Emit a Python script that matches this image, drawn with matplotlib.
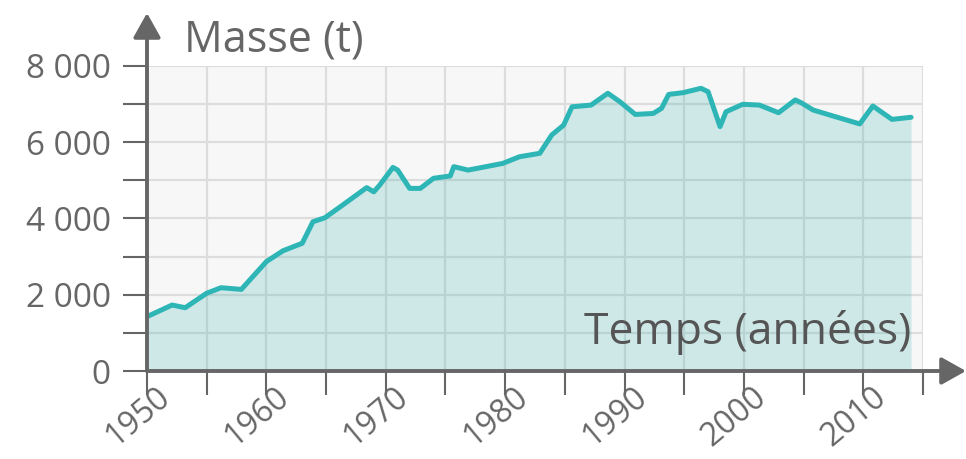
import numpy as np
import matplotlib
matplotlib.use('Agg')
import matplotlib.pyplot as plt
import matplotlib.transforms as mtransforms

plt.rcParams['font.family'] = ['Open Sans', 'DejaVu Sans']

# values
years = [1950.1, 1952.1, 1953.2, 1955.0, 1956.2, 1957.9, 1960.0, 1961.4, 1963.0,
         1963.9, 1964.9, 1966.2, 1968.4, 1969.0, 1969.5, 1970.6, 1971.0, 1972.0,
         1972.9, 1974.0, 1975.4, 1975.7, 1976.9, 1979.8, 1981.2, 1982.9, 1983.9,
         1984.9, 1985.6, 1987.2, 1988.6, 1989.6, 1990.9, 1992.4, 1993.1, 1993.7,
         1994.9, 1996.4, 1997.0, 1998.0, 1998.5, 1999.9, 2001.3, 2002.9, 2004.3,
         2004.8, 2005.8, 2009.7, 2010.8, 2012.4, 2014.0]
masse = [1440, 1730, 1660, 2040, 2185, 2140, 2870, 3155, 3350,
         3915, 4020, 4310, 4810, 4700, 4880, 5340, 5270, 4790,
         4790, 5055, 5115, 5360, 5270, 5445, 5620, 5710, 6190,
         6450, 6930, 6975, 7285, 7065, 6730, 6755, 6890, 7255,
         7300, 7415, 7325, 6410, 6800, 6995, 6975, 6775, 7110,
         7035, 6845, 6480, 6950, 6600, 6655]

year_ticks = [1950, 1960, 1970, 1980, 1990, 2000, 2010]
mass_ticks = [0, 2000, 4000, 6000, 8000]
mass_labels = ['0', '2 000', '4 000', '6 000', '8 000']

grey = '#666666'
teal = '#2eb6b6'

fig = plt.figure(figsize=(9.66, 4.59), dpi=100)
ax = fig.add_axes([147/966, 88/459, 776/966, 305/459])
ax.set_facecolor('#f7f7f7')
ax.set_xlim(1950, 2015)
ax.set_ylim(0, 8000)

ax.set_xticks(np.arange(1950, 2016, 5), minor=True)
ax.set_xticks(year_ticks)
ax.set_xticklabels([str(y) for y in year_ticks])
ax.set_yticks(np.arange(0, 8001, 1000), minor=True)
ax.set_yticks(mass_ticks)
ax.set_yticklabels(mass_labels)

ax.grid(True, which='both', color='#dddddd', lw=1.6, zorder=0)
ax.set_axisbelow(True)

ax.fill_between(years, masse, 0, color='#2aa8a8', alpha=0.2, lw=0, zorder=2)
ax.plot(years, masse, color=teal, lw=3.6, solid_joinstyle='round',
        solid_capstyle='round', zorder=3)

for s in ax.spines.values():
    s.set_visible(False)

ax.tick_params(which='both', direction='out', color=grey, width=1.5, length=17)
ax.tick_params(axis='y', labelsize=24, labelcolor=grey, pad=9)
ax.tick_params(axis='x', labelsize=23, labelcolor=grey, pad=0)

off = mtransforms.ScaledTranslation(8/100, 14/100, fig.dpi_scale_trans)
for lab in ax.get_xticklabels():
    lab.set_rotation(40)
    lab.set_ha('right')
    lab.set_va('top')
    lab.set_rotation_mode('anchor')
    lab.set_transform(lab.get_transform() + off)

# axis arrows
arrow = dict(arrowstyle='-|>,head_length=0.75,head_width=0.42', color=grey,
             lw=2.8, shrinkA=0, shrinkB=0, mutation_scale=20)
ax.annotate('', xy=(2018.6, 0), xytext=(1950, 0), arrowprops=arrow,
            annotation_clip=False, zorder=5)
ax.annotate('', xy=(1950, 9390), xytext=(1950, 0), arrowprops=arrow,
            annotation_clip=False, zorder=5)

fig.text(184/966, 1 - 40/459, 'Masse (t)', fontsize=31, color=grey,
         ha='left', va='center')
ax.text(2014.0, 1000, 'Temps (années)', fontsize=32, color='#555555',
        ha='right', va='center', zorder=4)

fig.savefig('out.png', dpi=100)
